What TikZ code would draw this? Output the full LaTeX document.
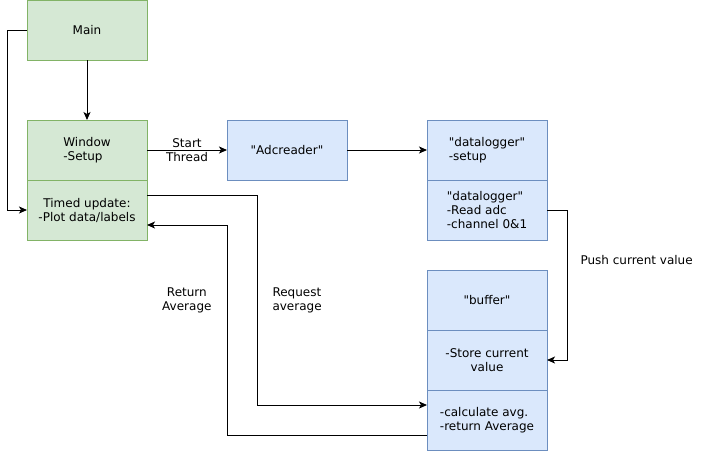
\documentclass[tikz,border=0pt]{standalone}
\usepackage{fontspec}
\setmainfont{DejaVu Sans}
\usepackage{tikz}
\usetikzlibrary{arrows.meta, positioning}
\definecolor{guifill}{HTML}{D5E8D4}
\definecolor{guiline}{HTML}{82B366}
\definecolor{taskfill}{HTML}{DAE8FC}
\definecolor{taskline}{HTML}{6C8EBF}
\newcommand{\qname}[1]{\textquotedbl#1\textquotedbl}
\tikzset{
  guibox/.style={
    rectangle,
    minimum width=120pt, minimum height=60pt,
    inner sep=2pt, outer sep=0pt,
    text centered, draw=guiline, line width=1pt,
    fill=guifill, font=\fontsize{12pt}{14pt}\selectfont,
  },
  taskbox/.style={
    rectangle,
    minimum width=120pt, minimum height=60pt,
    inner sep=2pt, outer sep=0pt,
    text centered, draw=taskline, line width=1pt,
    fill=taskfill, font=\fontsize{12pt}{14pt}\selectfont,
  },
  arrow/.style={-{Stealth[length=8pt, width=7pt, inset=2pt]}, line width=1pt, color=black},
  lbl/.style={inner sep=0pt, align=center, font=\fontsize{12pt}{14pt}\selectfont},
}

\begin{document}
\begin{tikzpicture}[node distance=60pt]

  \useasboundingbox (0,0) rectangle (708pt,-451pt);

  \node[guibox] (main) at (87pt,-30pt) {Main};
  \node[guibox, below=of main, align=left] (window) {Window\\-Setup};
  \node[guibox, below=0pt of window, align=center] (timed) {Timed update:\\-Plot data/labels};
  \node[taskbox, right=80pt of window] (adcreader) {\qname{Adcreader}};
  \node[taskbox, right=80pt of adcreader, align=left] (dlsetup) {\qname{datalogger}\\-setup};
  \node[taskbox, below=0pt of dlsetup, align=left] (dlread) {\qname{datalogger}\\-Read adc\\-channel 0\&1};
  \node[taskbox, below=30pt of dlread] (buffer) {\qname{buffer}};
  \node[taskbox, below=0pt of buffer, align=center] (store) {-Store current\\value};
  \node[taskbox, below=0pt of store, align=left] (calc) {-calculate avg.\\-return Average};

  \draw[arrow] (main) -- (window);
  \draw[arrow] (main.west) -- ++(-20pt,0) |- (timed.west);
  \draw[arrow] (window) -- node[lbl]{Start\\Thread} (adcreader);
  \draw[arrow] (adcreader) -- (dlsetup);
  \draw[arrow] (dlread.east) -- ++(20pt,0) |- node[lbl, pos=0.167, right=13pt]{Push current value} (store.east);
  \draw[arrow] ([yshift=15pt]timed.east) -- ++(110pt,0) |- node[lbl, pos=0.25, right=15pt, align=left]{Request\\average} ([yshift=15pt]calc.west);
  \draw[arrow] ([yshift=-15pt]calc.west) -- ++(-200pt,0) |- node[lbl, pos=0.321, left=15pt]{Return\\Average} ([yshift=-15pt]timed.east);

\end{tikzpicture}
\end{document}
